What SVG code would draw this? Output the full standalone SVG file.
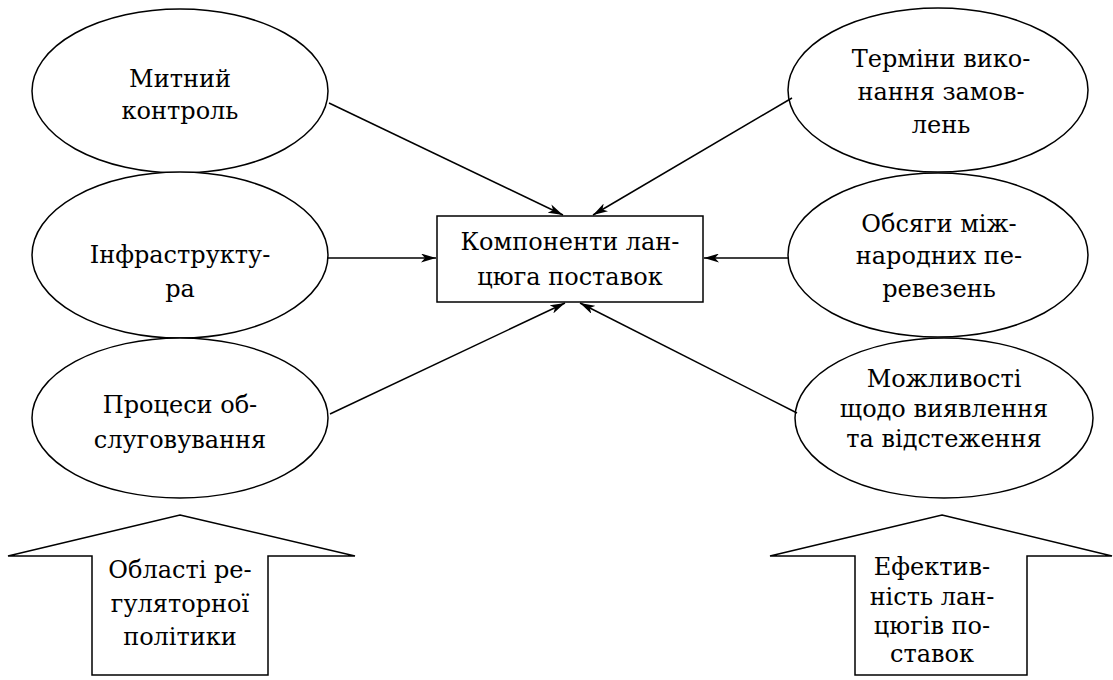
<svg xmlns="http://www.w3.org/2000/svg" width="1113" height="680" viewBox="0 0 1113 680">
<style>
.sh{fill:#fff;stroke:#000;stroke-width:1.5}
.t{font-family:'DejaVu Serif','Liberation Serif',serif;font-size:24px;fill:#000;text-anchor:middle}
.c{stroke:#000;stroke-width:1.5;fill:none;marker-end:url(#ah)}
</style>
<defs>
<marker id="ah" viewBox="0 0 15 9" refX="15" refY="4.5" markerWidth="15" markerHeight="9" markerUnits="userSpaceOnUse" orient="auto">
<path d="M0,0 L15,4.5 L0,9 L4,4.5 Z" fill="#000"/>
</marker>
</defs>
<rect width="1113" height="680" fill="#fff"/>
<g id="n-mytnyi">
<ellipse class="sh" cx="180" cy="91" rx="148" ry="82"/>
<text class="t" x="180" y="87">Митний</text>
<text class="t" x="180" y="119">контроль</text>
</g>
<g id="n-infra">
<ellipse class="sh" cx="180" cy="255" rx="148" ry="83"/>
<text class="t" x="180" y="263">Інфраструкту-</text>
<text class="t" x="180" y="297">ра</text>
</g>
<g id="n-protsesy">
<ellipse class="sh" cx="180" cy="418" rx="148" ry="80"/>
<text class="t" x="180" y="413">Процеси об-</text>
<text class="t" x="180" y="448">слуговування</text>
</g>
<g id="n-terminy">
<ellipse class="sh" cx="938" cy="90" rx="150" ry="82"/>
<text class="t" x="941" y="67">Терміни вико-</text>
<text class="t" x="941" y="100">нання замов-</text>
<text class="t" x="941" y="133">лень</text>
</g>
<g id="n-obsyagy">
<ellipse class="sh" cx="938" cy="255" rx="150" ry="82"/>
<text class="t" x="939" y="232">Обсяги між-</text>
<text class="t" x="939" y="264">народних пе-</text>
<text class="t" x="939" y="297">ревезень</text>
</g>
<g id="n-mozhlyvosti">
<ellipse class="sh" cx="944" cy="418" rx="149" ry="80"/>
<text class="t" x="944" y="387">Можливості</text>
<text class="t" x="944" y="417">щодо виявлення</text>
<text class="t" x="944" y="447">та відстеження</text>
</g>
<g id="n-center">
<rect class="sh" x="437" y="216" width="266" height="86"/>
<text class="t" x="570" y="250">Компоненти лан-</text>
<text class="t" x="570" y="285">цюга поставок</text>
</g>
<g id="n-oblasti">
<polygon class="sh" points="180,515 355,556 268,556 268,675 92,675 92,556 8,556"/>
<text class="t" x="180" y="578">Області ре-</text>
<text class="t" x="180" y="612">гуляторної</text>
<text class="t" x="180" y="645">політики</text>
</g>
<g id="n-efektyvnist">
<polygon class="sh" points="942,515 1112,556 1027,556 1027,675 855,675 855,556 770,556"/>
<text class="t" x="932" y="575">Ефектив-</text>
<text class="t" x="932" y="605">ність лан-</text>
<text class="t" x="932" y="634">цюгів по-</text>
<text class="t" x="932" y="662">ставок</text>
</g>
<g id="connectors">
<line class="c" x1="329" y1="103" x2="563" y2="215"/>
<line class="c" x1="328" y1="258" x2="436" y2="258"/>
<line class="c" x1="330" y1="414" x2="565" y2="303"/>
<line class="c" x1="792" y1="98" x2="593" y2="215"/>
<line class="c" x1="788" y1="258" x2="704" y2="258"/>
<line class="c" x1="797" y1="413" x2="580" y2="303"/>
</g>
</svg>
